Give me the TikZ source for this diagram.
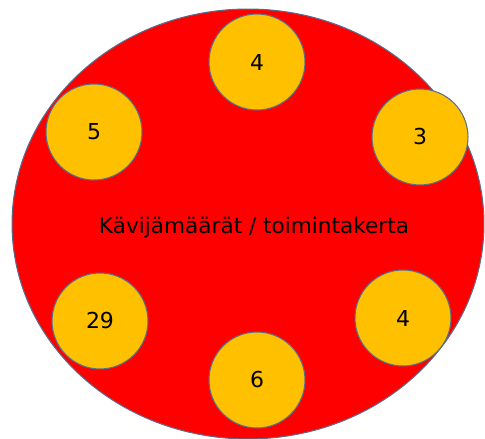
\documentclass[tikz,border=0pt]{standalone}
\usepackage{fontspec}
\setmainfont{DejaVu Sans}
\usepackage{tikz}
\usetikzlibrary{shapes.geometric}

\definecolor{boardred}{HTML}{FF0000}
\definecolor{countgold}{HTML}{FFC000}
\definecolor{rimblue}{HTML}{5A6E8C}

\begin{document}
\begin{tikzpicture}[
      x=0.02cm, y=-0.02cm,
      board/.style={
          ellipse, draw=rimblue, fill=boardred,
          line width=0.6pt,
          minimum width=9.44cm, minimum height=8.60cm,
          inner sep=0pt
      },
      count/.style={
          circle, draw=rimblue, fill=countgold,
          line width=0.6pt, minimum size=1.92cm,
          inner sep=0pt, font=\fontsize{12.5}{15}\selectfont
      },
      caption/.style={font=\fontsize{12.3}{15}\selectfont}
  ]
  \useasboundingbox (0,0) rectangle (485,439);

  % background ellipse
  \node[board] (B) at (248,224) {};
  \node[caption] (T) at (254,228) {Kävijämäärät / toimintakerta};

  % visitor counts
  \foreach \x/\y/\name/\val in {
      257/62/C1/4, 420/137/C2/3, 403/318/C3/4,
      257/380/C4/6, 100/321/C5/29, 94/132/C6/5}{
      \node[count] (\name) at (\x,\y) {\val};
  }
\end{tikzpicture}
\end{document}
